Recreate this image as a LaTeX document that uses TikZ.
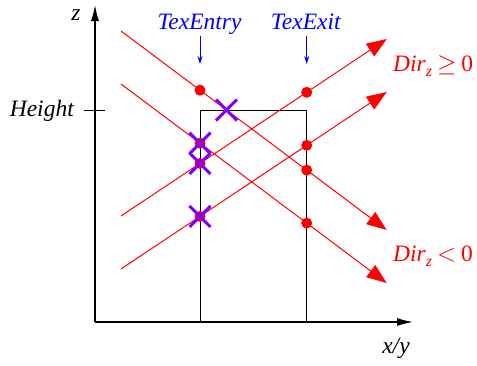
\documentclass[tikz,border=0pt]{standalone}
\usepackage{fontspec}
\setmainfont{Liberation Serif}
\usetikzlibrary{arrows.meta}
\definecolor{xpurple}{RGB}{128,0,255}
\newcommand{\subz}{\raisebox{-5pt}{\fontsize{16}{16}\selectfont z}}
\begin{document}
\begin{tikzpicture}[x=1pt,y=-1pt,
  ray/.style={red,line width=1pt,-{Triangle[length=20pt,width=15pt]}},
  axis/.style={black,line width=1.3pt,-{Latex[length=16pt,width=8pt]}},
  boxline/.style={black,line width=1pt},
  reddot/.style={circle,fill=red,inner sep=0pt,minimum size=11pt},
  xmark/.style={xpurple,line width=3pt},
  lbl/.style={font=\fontsize{23.5}{27}\selectfont\itshape,inner sep=0pt},
  ptr/.style={blue,line width=1pt,-{Stealth[length=8pt,width=5pt]}}]
\useasboundingbox (0,0) rectangle (477,365);
% axes
\coordinate (O) at (95,322);
\coordinate (ztop) at (95,5);
\coordinate (xend) at (413,322);
\draw[axis] (O) -- (ztop);
\draw[axis] (O) -- (xend);
% box
\coordinate (bl) at (200,322);
\coordinate (tl) at (200,110);
\coordinate (tr) at (306.7,110);
\coordinate (br) at (306.7,322);
\draw[boxline] (bl) -- (tl) -- (tr) -- (br);
% height tick
\coordinate (h1) at (84,110);
\coordinate (h2) at (105,110);
\draw[boxline] (h1) -- (h2);
% rays
\coordinate (d1s) at (121,31);  \coordinate (d1e) at (386.7,230);
\coordinate (d2s) at (121,84);  \coordinate (d2e) at (386.7,283);
\coordinate (a1s) at (121,216); \coordinate (a1e) at (386.7,39);
\coordinate (a2s) at (121,269); \coordinate (a2e) at (386.7,92);
\draw[ray] (d1s) -- (d1e);
\draw[ray] (d2s) -- (d2e);
\draw[ray] (a1s) -- (a1e);
\draw[ray] (a2s) -- (a2e);
% dots
\node[reddot] (p1) at (200,90.2) {};
\node[reddot] (p2) at (200,143.2) {};
\node[reddot] (p3) at (200,163.4) {};
\node[reddot] (p4) at (200,216.4) {};
\node[reddot] (q1) at (306.7,92.3) {};
\node[reddot] (q2) at (306.7,145.3) {};
\node[reddot] (q3) at (306.7,170.1) {};
\node[reddot] (q4) at (306.7,223.1) {};
% crosses
\foreach \c in {(226.5,110),(200,143.2),(200,163.4),(200,216.4)}{
  \draw[xmark] \c ++(-10.5,-10.5) -- ++(21,21);
  \draw[xmark] \c ++(-10.5,10.5) -- ++(21,-21);
}
% labels
\node[lbl,anchor=base] (zl) at (76,20) {z};
\node[lbl,anchor=base east] (hl) at (74,116) {Height};
\node[lbl,anchor=base,blue] (te) at (199.5,29) {TexEntry};
\node[lbl,anchor=base,blue] (tx) at (305.8,29) {TexExit};
\node[lbl,anchor=base west,red] (dp) at (393,71.7) {Dir\subz\hspace{5pt}{\normalfont$\geq$}\hspace{5pt}{\normalfont 0}};
\node[lbl,anchor=base west,red] (dn) at (393,261.7) {Dir\subz\hspace{5pt}{\normalfont$<$}\hspace{5pt}{\normalfont 0}};
\node[lbl,anchor=base] (xy) at (396,353) {x/y};
% pointers
\coordinate (te1) at (200,36); \coordinate (te2) at (200,64);
\coordinate (tx1) at (306.7,36); \coordinate (tx2) at (306.7,64);
\draw[ptr] (te1) -- (te2);
\draw[ptr] (tx1) -- (tx2);
\end{tikzpicture}
\end{document}
